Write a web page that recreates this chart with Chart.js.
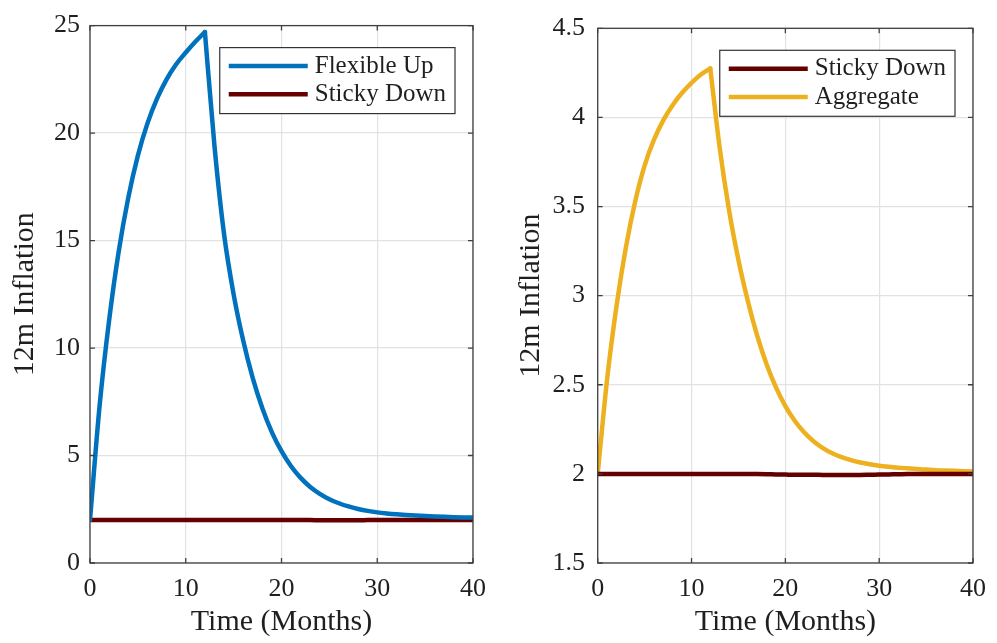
<!DOCTYPE html>
<html><head><meta charset="utf-8">
<script src="https://cdn.jsdelivr.net/npm/chart.js@4.4.0/dist/chart.umd.min.js"></script>
<style>
html,body{margin:0;padding:0;background:#fff;}
#wrap{position:relative;width:997px;height:643px;overflow:hidden;}
.panel{position:absolute;top:0;height:643px;}
</style></head><body>
<div id="wrap">
<div class="panel" style="left:0;width:497px"><canvas id="c1" width="497" height="643"></canvas></div>
<div class="panel" style="left:497px;width:500px"><canvas id="c2" width="500" height="643"></canvas></div>
</div>
<script>
// ---- data ----
const months = [0,1,2,3,4,5,6,7,8,9,10,11,12,13,14,15,16,17,18,19,20,21,22,23,24,25,26,27,28,29,30,31,32,33,34,35,36,37,38,39,40];
const flexibleUp = [2.0,7.3,11.3,14.5,17.0,18.95,20.45,21.6,22.5,23.2,23.75,24.25,24.7,
  19.4,15.3,12.5,10.35,8.6,7.2,6.08,5.2,4.5,3.96,3.54,3.22,2.97,2.78,2.63,2.515,2.425,
  2.355,2.305,2.265,2.232,2.205,2.183,2.164,2.148,2.134,2.122,2.111];
const stickyDown = [2.0,2.0,2.0,2.0,2.0,2.0,2.0,2.0,2.0,2.0,2.0,2.0,2.0,2.0,2.0,2.0,2.0,
  1.999,1.998,1.997,1.996,1.995,1.995,1.995,1.994,1.994,1.994,1.994,1.994,1.995,
  1.996,1.997,1.998,1.999,1.999,2.0,2.0,2.0,2.0,2.0,2.0];
const aggregate = [2.0,2.53,2.94,3.27,3.53,3.73,3.875,3.985,4.07,4.138,4.194,4.241,4.275,
  3.83,3.48,3.2,2.97,2.775,2.615,2.485,2.38,2.298,2.233,2.183,2.145,2.116,2.094,2.077,2.064,2.054,
  2.046,2.04,2.035,2.031,2.027,2.024,2.021,2.019,2.017,2.015,2.013];
const peakMonth = 12;
const xTickLabels = [0,10,20,30,40];
const yTicksLeft = [0,5,10,15,20,25];
const yTicksRight = [1.5,2,2.5,3,3.5,4,4.5];
const labelsLeft = ['Flexible Up','Sticky Down'];
const labelsRight = ['Sticky Down','Aggregate'];

// ---- styles ----
const C_BLUE = '#0072BD', C_RED = '#660000', C_YEL = '#EDB120';
const TXT = '#1f1f1f';
const FONT = "'Liberation Serif', 'Times New Roman', serif";

const boxPlugin = {
  id: 'matlabBox',
  afterDatasetsDraw(chart) {
    const {ctx, chartArea: a, scales: {x, y}} = chart;
    ctx.save();
    ctx.strokeStyle = '#404040';
    ctx.lineWidth = 1.3;
    ctx.strokeRect(a.left, a.top, a.right - a.left, a.bottom - a.top);
    const L = 5;
    ctx.beginPath();
    x.ticks.forEach(t => {
      const px = x.getPixelForValue(t.value);
      ctx.moveTo(px, a.bottom); ctx.lineTo(px, a.bottom - L);
      ctx.moveTo(px, a.top); ctx.lineTo(px, a.top + L);
    });
    y.ticks.forEach(t => {
      const py = y.getPixelForValue(t.value);
      ctx.moveTo(a.left, py); ctx.lineTo(a.left + L, py);
      ctx.moveTo(a.right, py); ctx.lineTo(a.right - L, py);
    });
    ctx.stroke();
    ctx.restore();
  }
};

const legendPlugin = {
  id: 'boxLegend',
  afterDraw(chart) {
    const o = chart.options.plugins.boxLegend;
    if (!o) return;
    const {ctx, chartArea: a} = chart;
    ctx.save();
    ctx.font = '25px ' + FONT;
    const items = o.items;
    const maxW = Math.max(...items.map(i => ctx.measureText(i.label).width));
    const padL = 9, lineW = 79, gap = 7, padR = 9;
    const w = padL + lineW + gap + maxW + padR;
    const h = 66;
    const right = a.right - o.insetRight;
    const left = right - w;
    const top = a.top + o.insetTop;
    ctx.fillStyle = '#fff';
    ctx.fillRect(left, top, w, h);
    ctx.strokeStyle = '#333';
    ctx.lineWidth = 1.2;
    ctx.strokeRect(left, top, w, h);
    const rows = [18.4, 46.7];
    items.forEach((it, i) => {
      const yy = top + rows[i];
      ctx.strokeStyle = it.color;
      ctx.lineWidth = 4.5;
      ctx.beginPath();
      ctx.moveTo(left + padL, yy); ctx.lineTo(left + padL + lineW, yy);
      ctx.stroke();
      ctx.fillStyle = TXT;
      ctx.textBaseline = 'middle';
      ctx.textAlign = 'left';
      ctx.fillText(it.label, left + padL + lineW + gap, yy);
    });
    ctx.restore();
  }
};

function pts(data, from, to) {
  const out = [];
  months.forEach((m, i) => { if (m >= from && m <= to) out.push({x: m, y: data[i]}); });
  return out;
}
function ds(label, points, color) {
  return {
    label, data: points,
    borderColor: color, backgroundColor: color, borderWidth: 4.5,
    pointRadius: 0, cubicInterpolationMode: 'monotone', borderJoinStyle: 'round',
    borderCapStyle: 'round', fill: false
  };
}

function makeChart(id, datasets, items, yTicks, ymin, ymax, cfg) {
  return new Chart(document.getElementById(id), {
    type: 'line',
    data: {datasets},
    options: {
      responsive: false,
      animation: false,
      devicePixelRatio: 1,
      layout: {padding: {left: 0, right: cfg.padRight, top: 21.5, bottom: 0}},
      plugins: {legend: {display: false}, tooltip: {enabled: false},
        boxLegend: {insetRight: 18, insetTop: 22, items}},
      scales: {
        x: {
          type: 'linear', min: 0, max: 40,
          afterBuildTicks: s => { s.ticks = xTickLabels.map(v => ({value: v})); },
          afterFit: s => { s.height = 80; },
          ticks: {color: TXT, font: {family: FONT, size: 26}, padding: 11, maxRotation: 0,
            callback: v => String(v)},
          grid: {color: '#e2e2e2', lineWidth: 1.2, drawTicks: false},
          border: {display: false},
          title: {display: true, text: 'Time (Months)', color: TXT,
            font: {family: FONT, size: 30}, padding: {top: 0, bottom: 3}}
        },
        y: {
          type: 'linear', min: ymin, max: ymax,
          afterBuildTicks: s => { s.ticks = yTicks.map(v => ({value: v})); },
          afterFit: s => { s.width = cfg.yWidth; },
          ticks: {color: TXT, font: {family: FONT, size: 26}, padding: cfg.tickPad,
            callback: v => String(v)},
          grid: {color: '#e2e2e2', lineWidth: 1.2, drawTicks: false},
          border: {display: false},
          title: {display: true, text: '12m Inflation', color: TXT,
            font: {family: FONT, size: 30}, padding: {top: cfg.titlePad, bottom: 0}}
        }
      }
    },
    plugins: [boxPlugin, legendPlugin]
  });
}

makeChart('c1',
  [ds(labelsLeft[0], pts(flexibleUp, 0, peakMonth), C_BLUE),
   ds(labelsLeft[0], pts(flexibleUp, peakMonth, 40), C_BLUE),
   ds(labelsLeft[1], pts(stickyDown, 0, 40), C_RED)],
  [{label: labelsLeft[0], color: C_BLUE}, {label: labelsLeft[1], color: C_RED}],
  yTicksLeft, 0, 25, {padRight: 21, yWidth: 90, tickPad: 10, titlePad: 7});

makeChart('c2',
  [ds(labelsRight[0], pts(stickyDown, 0, 40), C_RED),
   ds(labelsRight[1], pts(aggregate, 0, peakMonth), C_YEL),
   ds(labelsRight[1], pts(aggregate, peakMonth, 40), C_YEL)],
  [{label: labelsRight[0], color: C_RED}, {label: labelsRight[1], color: C_YEL}],
  yTicksRight, 1.5, 4.5, {padRight: 15, yWidth: 100.7, tickPad: 12.7, titlePad: 16});
</script>
</body></html>
